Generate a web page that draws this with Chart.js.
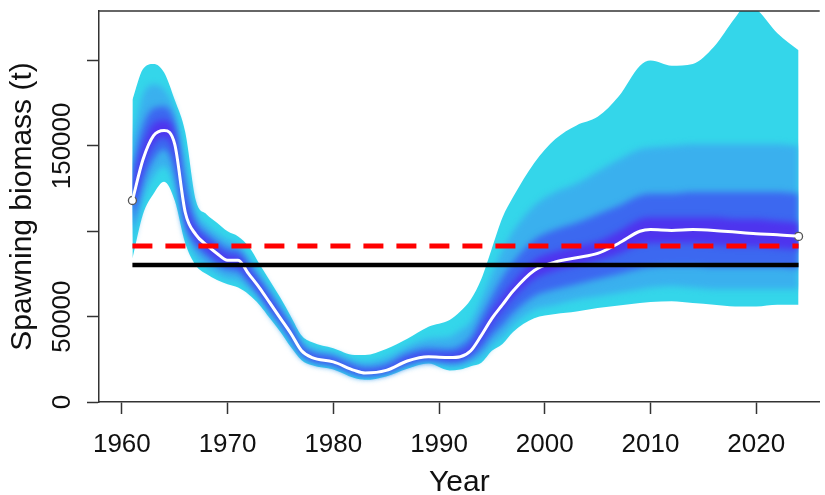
<!DOCTYPE html>
<html>
<head>
<meta charset="utf-8">
<script src="https://cdn.jsdelivr.net/npm/chart.js@4/dist/chart.umd.min.js"></script>
<style>
  html, body { margin: 0; padding: 0; background: #fff; overflow: hidden; }
  #wrap { width: 825px; height: 495px; position: relative; }
</style>
</head>
<body>
<div id="wrap"><canvas id="biomass"></canvas></div>
<script>
// Spawning biomass (thousand t) at key years
const years = [1961, 1962, 1963, 1964, 1965, 1966, 1967, 1968, 1969, 1970,
               1971, 1972, 1973, 1974, 1975, 1976, 1977, 1978, 1980, 1982,
               1983, 1985, 1987, 1989, 1991, 1992, 1993, 1994, 1995, 1996,
               1997, 1999, 2001, 2003, 2005, 2007, 2009, 2010, 2012, 2014,
               2016, 2018, 2019, 2020, 2022, 2024];
const median = [118, 142, 156, 159, 151, 111, 98, 92, 87, 83,
                83, 75, 67, 58, 49, 40, 30, 26, 23.5, 18.5,
                17, 18.5, 24, 26.5, 26, 26.5, 30, 39, 49, 57,
                65, 77, 82, 84.5, 87, 93, 100, 101, 100.5, 101,
                100.5, 99.5, 99, 98.5, 98, 97];
const lo95 = [84, 110, 122, 129, 118, 93, 80, 75, 71.5, 69,
              67, 63, 57, 49, 41, 32, 24.5, 21.5, 19, 14,
              13, 15, 19.5, 22.5, 18.5, 19, 21, 23, 30, 34,
              41, 49, 51.5, 53, 55, 56.5, 58, 58.5, 59, 58,
              57, 56, 56, 56, 57, 57];
const hi95 = [177, 195, 198, 193, 177, 158, 118, 110, 105, 100,
              97, 91, 81, 71, 61, 50, 39, 35, 31.5, 27.5,
              27.5, 31, 37, 44, 48, 53, 60, 72, 90, 108,
              120, 140, 154, 162, 167, 179, 197, 200, 197, 198,
              208, 225, 232, 230, 216, 206];
const lo80 = [92, 118, 132, 138, 126, 98, 85, 79, 75, 72,
              71, 66, 60, 51, 43, 34, 26, 22.5, 20, 15,
              14, 16, 20.5, 23, 20.5, 21, 23, 26, 33, 38,
              45, 54, 57, 60, 62, 64, 66, 67, 68, 67,
              66, 66, 66, 66, 66, 66];
const hi80 = [155, 180, 186, 183, 171, 142, 112, 104, 99, 95,
              93, 85, 76, 67, 57, 47, 36, 32, 29, 24.5,
              23.5, 26, 32.5, 37, 38, 42, 47, 60, 75, 89,
              100, 115, 123, 128, 135, 142, 148, 149, 150, 151,
              151, 151, 151, 151, 151, 150];
const lo50 = [102, 128, 142, 148, 136, 104, 91, 85, 80, 77,
              76, 70, 63, 54, 46, 37, 28, 24, 21.5, 16.5,
              15.5, 17, 22, 24.5, 23, 23.5, 26, 31, 39, 45,
              52, 62, 66, 69, 72, 75, 78, 79, 80, 80,
              79, 79, 79, 79, 79, 78];
const hi50 = [138, 162, 172, 173, 164, 127, 106, 99, 94, 90,
              89, 81, 72, 63, 54, 44, 33, 29, 26.5, 21.5,
              20, 22, 28.5, 31.5, 31, 33, 38, 50, 62, 73,
              82, 95, 101, 105, 110, 115, 121, 122, 122, 123,
              123, 123, 123, 123, 123, 122];
const lo20 = [112, 137, 151, 155, 145, 108, 95, 89, 84, 81,
              80, 73, 65, 56, 48, 39, 29.5, 25.5, 23, 18,
              16.5, 18, 23.5, 26, 25, 25.5, 29, 36.5, 46, 54,
              61, 72, 77, 80, 83, 87, 92, 93, 93, 93,
              92, 91, 91, 91, 90, 89];
const hi20 = [126, 150, 163, 165, 157, 117, 101, 95, 90, 86,
              85, 77, 69, 60, 51, 42, 31.5, 27, 24.5, 19.5,
              18, 19.5, 25.5, 28, 27.5, 28.5, 32.5, 42, 53, 62,
              70, 83, 88, 91, 94, 100, 107, 108, 108, 108,
              108, 107, 107, 107, 106, 105];

// reference points (thousand t), drawn from first to last assessment year
const refYears = [1961, 2024];
const targetLevel = [91.4, 91.4];   // red dashed
const limitLevel = [80.2, 80.2];    // black solid

const xTicks = [1960, 1970, 1980, 1990, 2000, 2010, 2020];
const yTicks = [0, 50000, 100000, 150000, 200000];
const yTickLabels = ['0', '50000', '', '150000', ''];

const pts = (xs, ys) => xs.map((x, i) => ({ x: x, y: ys[i] * 1000 }));

const FONT = '"Liberation Sans", Arial, Helvetica, sans-serif';
Chart.defaults.font.family = FONT;
Chart.defaults.color = '#111';

// soft = blur the fill of this band so the fan looks graded
function band(lo, hi, color, order, soft) {
    return [
        {
            data: pts(years, hi),
            fill: '+1',
            backgroundColor: color,
            borderColor: 'transparent',
            borderWidth: 0,
            pointRadius: 0,
            cubicInterpolationMode: 'monotone',
            order: order
        },
        {
            data: pts(years, lo),
            fill: false,
            borderColor: 'transparent',
            borderWidth: 0,
            pointRadius: 0,
            cubicInterpolationMode: 'monotone',
            order: order,
            soft: soft
        }
    ];
}

// the fill of a band is drawn by the filler just before its upper dataset,
// which comes right after its lower one, so switch the blur on there
const softFan = {
    id: 'softFan',
    beforeDatasetDraw(chart) {
        chart.ctx.filter = 'none';
    },
    afterDatasetDraw(chart, args) {
        if (chart.data.datasets[args.index].soft) chart.ctx.filter = 'blur(3px)';
    }
};

// rotated y labels and the top edge of the box
const frame = {
    id: 'frame',
    afterDraw(chart) {
        const { ctx, chartArea, scales } = chart;
        ctx.save();
        ctx.filter = 'none';
        ctx.strokeStyle = '#333';
        ctx.lineWidth = 1.5;
        ctx.beginPath();
        ctx.moveTo(chartArea.left, chartArea.top);
        ctx.lineTo(chartArea.right, chartArea.top);
        ctx.stroke();

        ctx.fillStyle = '#111';
        ctx.font = '26px ' + FONT;
        ctx.textAlign = 'center';
        ctx.textBaseline = 'middle';
        yTicks.forEach((v, i) => {
            if (!yTickLabels[i]) return;
            ctx.save();
            ctx.translate(chartArea.left - 36, scales.y.getPixelForValue(v));
            ctx.rotate(-Math.PI / 2);
            ctx.fillText(yTickLabels[i], 0, 0);
            ctx.restore();
        });
        ctx.restore();
    }
};

new Chart(document.getElementById('biomass'), {
    type: 'line',
    data: {
        datasets: [
            ...band(lo95, hi95, 'rgb(52, 214, 234)', 10, false),
            ...band(lo80, hi80, 'rgb(58, 176, 238)', 9, true),
            ...band(lo50, hi50, 'rgb(60, 104, 240)', 8, true),
            ...band(lo20, hi20, 'rgb(78, 52, 238)', 7, true),
            {
                // open circles at first and last year
                data: [pts(years, median)[0], pts(years, median)[years.length - 1]],
                showLine: false,
                pointRadius: 4,
                pointBorderWidth: 1.3,
                pointBorderColor: '#555',
                pointBackgroundColor: '#fff',
                order: 3
            },
            {
                data: pts(years, median),
                borderColor: '#fff',
                borderWidth: 3,
                pointRadius: 0,
                fill: false,
                cubicInterpolationMode: 'monotone',
                order: 2
            },
            {
                data: pts(refYears, targetLevel),
                borderColor: '#ff0000',
                borderWidth: 5,
                borderDash: [20, 13],
                pointRadius: 0,
                fill: false,
                order: 1
            },
            {
                data: pts(refYears, limitLevel),
                borderColor: '#000',
                borderWidth: 4.5,
                pointRadius: 0,
                fill: false,
                order: 0
            }
        ]
    },
    options: {
        responsive: true,
        maintainAspectRatio: false,
        animation: false,
        layout: { padding: { top: 11, right: 0, bottom: 0, left: 0 } },
        plugins: {
            legend: { display: false },
            tooltip: { enabled: false }
        },
        scales: {
            x: {
                type: 'linear',
                min: 1957.84,
                max: 2026.0,
                afterBuildTicks: s => { s.ticks = xTicks.map(v => ({ value: v })); },
                afterFit: s => { s.height = 93; },
                ticks: {
                    padding: 15,
                    font: { size: 26 },
                    color: '#111',
                    maxRotation: 0,
                    callback: v => String(v)
                },
                grid: { drawOnChartArea: false, tickLength: 12, tickWidth: 1.5, tickColor: '#333' },
                border: { display: true, color: '#333', width: 1.5 },
                title: {
                    display: true,
                    text: 'Year',
                    font: { size: 30, lineHeight: 0.84 },
                    color: '#111',
                    padding: { top: 0, bottom: 0 }
                }
            },
            y: {
                min: 0,
                max: 229000,
                afterBuildTicks: s => { s.ticks = yTicks.map(v => ({ value: v })); },
                afterFit: s => { s.width = 99; },
                ticks: { display: false },
                grid: { drawOnChartArea: false, tickLength: 12, tickWidth: 1.5, tickColor: '#333' },
                border: { display: true, color: '#333', width: 1.5 },
                title: {
                    display: true,
                    text: 'Spawning biomass (t)',
                    font: { size: 30 },
                    color: '#111',
                    padding: { top: 5, bottom: 0 }
                }
            }
        }
    },
    plugins: [softFan, frame]
});
</script>
</body>
</html>
